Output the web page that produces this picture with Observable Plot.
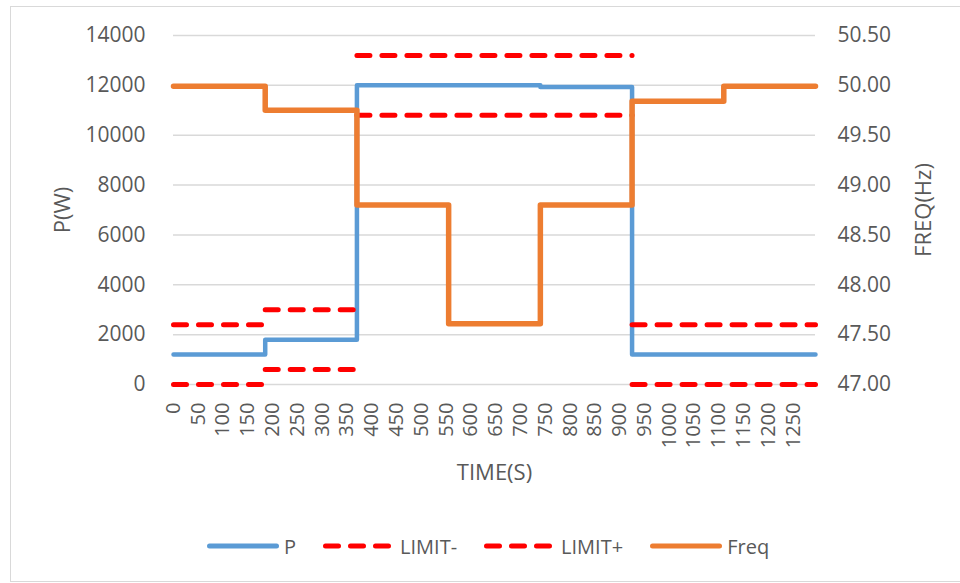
<!DOCTYPE html>
<html><head><meta charset="utf-8">
<script src="https://cdn.jsdelivr.net/npm/d3@7"></script>
<script src="https://cdn.jsdelivr.net/npm/@observablehq/plot@0.6"></script>
<style>
body{margin:0;background:#fff;font-family:"Open Sans",sans-serif;}
#wrap{position:relative;width:960px;height:583px;overflow:hidden;background:#fff;}
#frame{position:absolute;left:10px;top:6px;width:1000px;height:576px;border:1px solid #D9D9D9;box-sizing:border-box;}
#chart{position:absolute;left:0;top:0;}
#legend{position:absolute;left:207px;top:532px;height:28px;display:flex;align-items:center;font-size:20px;color:#595959;white-space:nowrap;}
#legend .item{display:flex;align-items:center;margin-right:27px;}
#legend svg{margin-right:5px;overflow:visible;}
</style></head><body>
<div id="wrap"><div id="frame"></div><div id="chart"></div><div id="legend"></div></div>
<script>
// P series (W): change points in time (s)
const pTime  = [0, 185, 370, 740, 925, 1295];
const pWatts = [1200, 1800, 12000, 11930, 1200, 1200];
// Freq series (Hz)
const fTime = [0, 185, 370, 555, 740, 925, 1110, 1295];
const fHz   = [49.99, 49.75, 48.80, 47.61, 48.80, 49.84, 49.99, 49.99];
// Limit segments (W)
const limStart = [0, 185, 370, 925];
const limEnd   = [185, 370, 925, 1295];
const limMinus = [0, 600, 10800, 0];
const limPlus  = [2400, 3000, 13200, 2400];
// Tick labels
const xTicks = [0,50,100,150,200,250,300,350,400,450,500,550,600,650,700,750,800,850,900,950,1000,1050,1100,1150,1200,1250];
const pTicks = [0,2000,4000,6000,8000,10000,12000,14000];
const fTicks = [47.00,47.50,48.00,48.50,49.00,49.50,50.00,50.50];
const seriesNames = ["P","LIMIT-","LIMIT+","Freq"];

const F0 = 47, FK = 4000; // freq axis mapped onto P axis: 47 Hz -> 0 W, 50.5 Hz -> 14000 W
const toP = f => (f - F0) * FK;

const pData = pTime.map((t, i) => ({t, v: pWatts[i]}));
const fData = fTime.map((t, i) => ({t, f: fHz[i]}));
const segs = (vals) => limStart.flatMap((s, i) => [{t: s, v: vals[i], seg: i}, {t: limEnd[i], v: vals[i], seg: i}]);
const minusData = segs(limMinus);
const plusData = segs(limPlus);

const colors = {P: "#5B9BD5", LIMIT: "#FF0000", Freq: "#ED7D31"};

const chart = Plot.plot({
  width: 960,
  height: 520,
  marginLeft: 173,
  marginRight: 145,
  marginTop: 35,
  marginBottom: 136,
  style: {background: "transparent", fontFamily: "'Open Sans', sans-serif", fontSize: "21px", color: "#595959", overflow: "visible"},
  x: {domain: [0, 1295], axis: null},
  y: {domain: [0, 14000], axis: null},
  marks: [
    Plot.gridY(pTicks, {stroke: "#D9D9D9", strokeOpacity: 1, strokeWidth: 1.5}),
    Plot.axisY(pTicks, {anchor: "left", tickSize: 0, tickPadding: 28, fontSize: 21, label: null, tickFormat: d => String(d)}),
    Plot.axisY(fTicks.map(toP), {anchor: "right", tickSize: 0, tickPadding: 22, fontSize: 21, label: null, tickFormat: v => (F0 + v / FK).toFixed(2)}),
    Plot.axisX(xTicks, {anchor: "bottom", tickSize: 0, tickPadding: 18, tickRotate: -90, textAnchor: "end", lineAnchor: "middle", fontSize: 20, label: null, tickFormat: d => String(d)}),
    Plot.line(pData, {x: "t", y: "v", curve: "step-after", stroke: colors.P, strokeWidth: 4.5, strokeLinejoin: "round"}),
    Plot.line(minusData, {x: "t", y: "v", z: "seg", stroke: colors.LIMIT, strokeWidth: 5, strokeDasharray: "13,12", strokeLinecap: "round"}),
    Plot.line(plusData, {x: "t", y: "v", z: "seg", stroke: colors.LIMIT, strokeWidth: 5, strokeDasharray: "13,12", strokeLinecap: "round"}),
    Plot.line(fData, {x: "t", y: d => toP(d.f), curve: "step-after", stroke: colors.Freq, strokeWidth: 5.5, strokeLinejoin: "round"}),
    Plot.text(["P(W)"], {text: d => d, frameAnchor: "left", dx: -111, rotate: -90, textAnchor: "middle", lineAnchor: "middle", fontSize: 22, fill: "#595959"}),
    Plot.text(["FREQ(Hz)"], {text: d => d, frameAnchor: "right", dx: 108, rotate: -90, textAnchor: "middle", lineAnchor: "middle", fontSize: 22, fill: "#595959"}),
    Plot.text(["TIME(S)"], {text: d => d, frameAnchor: "bottom", dy: 88, textAnchor: "middle", lineAnchor: "middle", fontSize: 22, fill: "#595959"})
  ]
});
document.getElementById("chart").appendChild(chart);

// Legend
const legend = d3.select("#legend");
const legendStyle = {
  "P": {stroke: colors.P, dash: null},
  "LIMIT-": {stroke: colors.LIMIT, dash: "13,12"},
  "LIMIT+": {stroke: colors.LIMIT, dash: "13,12"},
  "Freq": {stroke: colors.Freq, dash: null}
};
seriesNames.forEach(name => {
  const it = legend.append("div").attr("class", "item");
  const s = it.append("svg").attr("width", 72).attr("height", 10);
  s.append("line").attr("x1", 2.5).attr("x2", 69.5).attr("y1", 5).attr("y2", 5)
    .attr("stroke", legendStyle[name].stroke).attr("stroke-width", 5)
    .attr("stroke-linecap", "round")
    .attr("stroke-dasharray", legendStyle[name].dash);
  it.append("span").text(name);
});
</script>
</body></html>
